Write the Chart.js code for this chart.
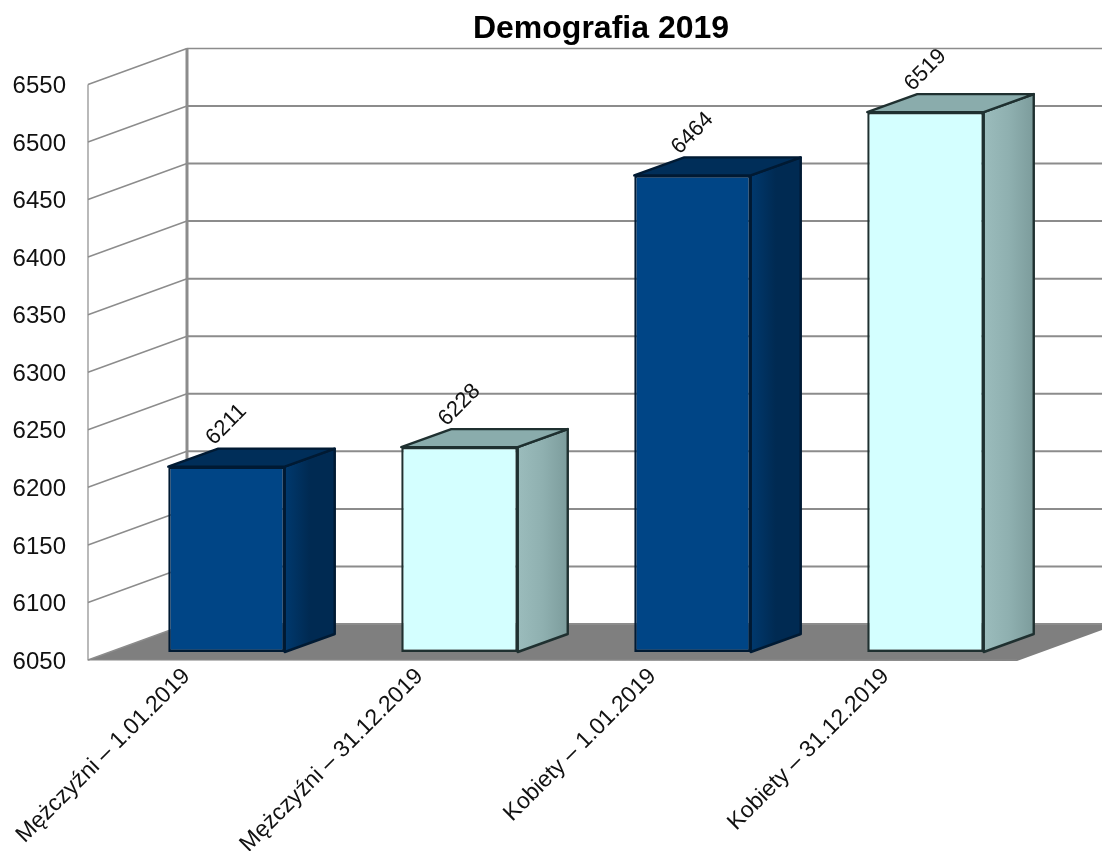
<!DOCTYPE html>
<html><head><meta charset="utf-8">
<style>html,body{margin:0;padding:0;background:#fff}#w{width:1102px;height:851px;position:relative}canvas{display:block}</style>
<script src="https://cdn.jsdelivr.net/npm/chart.js@4"></script>
</head><body><div id="w"><canvas id="c" width="1102" height="851"></canvas></div>
<script>
const categories = ["Mężczyźni – 1.01.2019","Mężczyźni – 31.12.2019","Kobiety – 1.01.2019","Kobiety – 31.12.2019"];
const population = [6211,6228,6464,6519];
const frontColors = ["#004586","#d4ffff","#004586","#d4ffff"];
const yMin = 6050, yMax = 6550, yStep = 50;
const titleText = "Demografia 2019";

const FONT = "'Liberation Sans', Arial, sans-serif";
const wall = {dx:99, dy:-36};
const bar = {dx:22, dy:-8, sx:50, sy:-18};
const sideStops = {
  "#004586":["#00396e","#002a52","#002a52"],
  "#d4ffff":["#9bbcbc","#8fb0b0","#7c9c9c"]
};
const topFill = {"#004586":"#002e59","#d4ffff":"#8aacac"};

const scene = {
  id:'scene',
  beforeDatasetsDraw(chart){
    const {ctx, chartArea:a, scales:{y}} = chart;
    ctx.save();
    // floor
    const y0 = y.getPixelForValue(yMin);
    ctx.fillStyle = '#7f7f7f';
    ctx.beginPath();
    ctx.moveTo(a.left,y0); ctx.lineTo(a.right-3,y0+1);
    ctx.lineTo(a.right-3+wall.dx,y0+1+wall.dy); ctx.lineTo(a.left+wall.dx,y0+wall.dy);
    ctx.closePath(); ctx.fill();
    // grid
    ctx.strokeStyle = '#8c8c8c';
    y.ticks.forEach(t=>{
      const py = y.getPixelForValue(t.value);
      ctx.lineWidth = 1.6;
      ctx.beginPath(); ctx.moveTo(a.left,py); ctx.lineTo(a.left+wall.dx,py+wall.dy); ctx.stroke();
      ctx.lineWidth = t.value===yMax ? 1.5 : 2;
      ctx.beginPath(); ctx.moveTo(a.left+wall.dx,py+wall.dy); ctx.lineTo(chart.width,py+wall.dy); ctx.stroke();
    });
    const yt = y.getPixelForValue(yMax);
    ctx.lineWidth = 1.2;
    ctx.beginPath(); ctx.moveTo(a.left,yt); ctx.lineTo(a.left,y0); ctx.lineTo(a.right-3,y0); ctx.stroke();
    ctx.lineWidth = 3;
    ctx.beginPath(); ctx.moveTo(a.left+wall.dx,yt+wall.dy); ctx.lineTo(a.left+wall.dx,y0+wall.dy); ctx.stroke();
    // bar side and top faces
    const meta = chart.getDatasetMeta(0);
    ctx.lineJoin = 'round';
    meta.data.forEach((el,i)=>{
      const c = frontColors[i];
      const w = el.width, xl = el.x-w/2+bar.dx, xr = el.x+w/2+bar.dx;
      const yT = el.y+bar.dy, yB = el.base+bar.dy;
      ctx.strokeStyle = c==="#004586" ? '#001a33' : '#1f3030';
      ctx.lineWidth = 2.4;
      const g = ctx.createLinearGradient(xr,0,xr+bar.sx,0);
      const st = sideStops[c];
      g.addColorStop(0,st[0]); g.addColorStop(.5,st[1]); g.addColorStop(1,st[2]);
      ctx.fillStyle = g;
      ctx.beginPath();
      ctx.moveTo(xr,yT); ctx.lineTo(xr+bar.sx,yT+bar.sy); ctx.lineTo(xr+bar.sx,yB+bar.sy); ctx.lineTo(xr,yB);
      ctx.closePath(); ctx.fill(); ctx.stroke();
      ctx.fillStyle = topFill[c];
      ctx.beginPath();
      ctx.moveTo(xl,yT); ctx.lineTo(xl+bar.sx,yT+bar.sy); ctx.lineTo(xr+bar.sx,yT+bar.sy); ctx.lineTo(xr,yT);
      ctx.closePath(); ctx.fill(); ctx.stroke();
    });
    ctx.restore();
  },
  beforeDatasetDraw(chart){
    chart.ctx.save();
    chart.ctx.translate(bar.dx,bar.dy);
  },
  afterDatasetDraw(chart){
    chart.ctx.restore();
  },
  afterDatasetsDraw(chart){
    const {ctx} = chart;
    const meta = chart.getDatasetMeta(0);
    ctx.save();
    ctx.fillStyle = '#111';
    ctx.font = "22px "+FONT;
    ctx.textAlign = 'center';
    ctx.textBaseline = 'middle';
    meta.data.forEach((el,i)=>{
      ctx.save();
      ctx.translate(el.x+bar.dx, el.y+bar.dy-42);
      ctx.rotate(-Math.PI/4);
      ctx.fillText(String(population[i]),0,0);
      ctx.restore();
    });
    ctx.restore();
  },
  afterLayout(chart){
    if(chart.titleBlock){ chart.titleBlock.left = 100; chart.titleBlock.right = 1102; }
  }
};

new Chart(document.getElementById('c'),{
  type:'bar',
  data:{labels:categories,datasets:[{
    data:population,
    backgroundColor:frontColors,
    borderColor:frontColors.map(c=>c==="#004586"?'#001a33':'#1f3030'),
    borderWidth:2.4,
    borderSkipped:false,
    barPercentage:0.5,
    categoryPercentage:1,
    base:yMin
  }]},
  plugins:[scene],
  options:{
    responsive:false,
    animation:false,
    devicePixelRatio:1,
    clip:false,
    layout:{padding:{right:82}},
    plugins:{
      legend:{display:false},
      tooltip:{enabled:false},
      title:{display:true,text:titleText,color:'#000',
        font:{family:FONT,size:32,weight:'bold'},
        padding:{top:10,bottom:36}}
    },
    scales:{
      x:{
        grid:{display:false},
        border:{display:false},
        ticks:{color:'#111',font:{family:FONT,size:23},minRotation:45,maxRotation:45,
          autoSkip:false,labelOffset:-18,padding:-5},
        afterFit(s){ s.height = 191; }
      },
      y:{
        min:yMin,max:yMax,
        grid:{display:false},
        border:{display:false},
        ticks:{stepSize:yStep,color:'#111',font:{family:FONT,size:24},padding:14,labelOffset:2,
          callback:v=>String(v)},
        afterFit(s){ s.width = 88; }
      }
    }
  }
});
</script></body></html>
